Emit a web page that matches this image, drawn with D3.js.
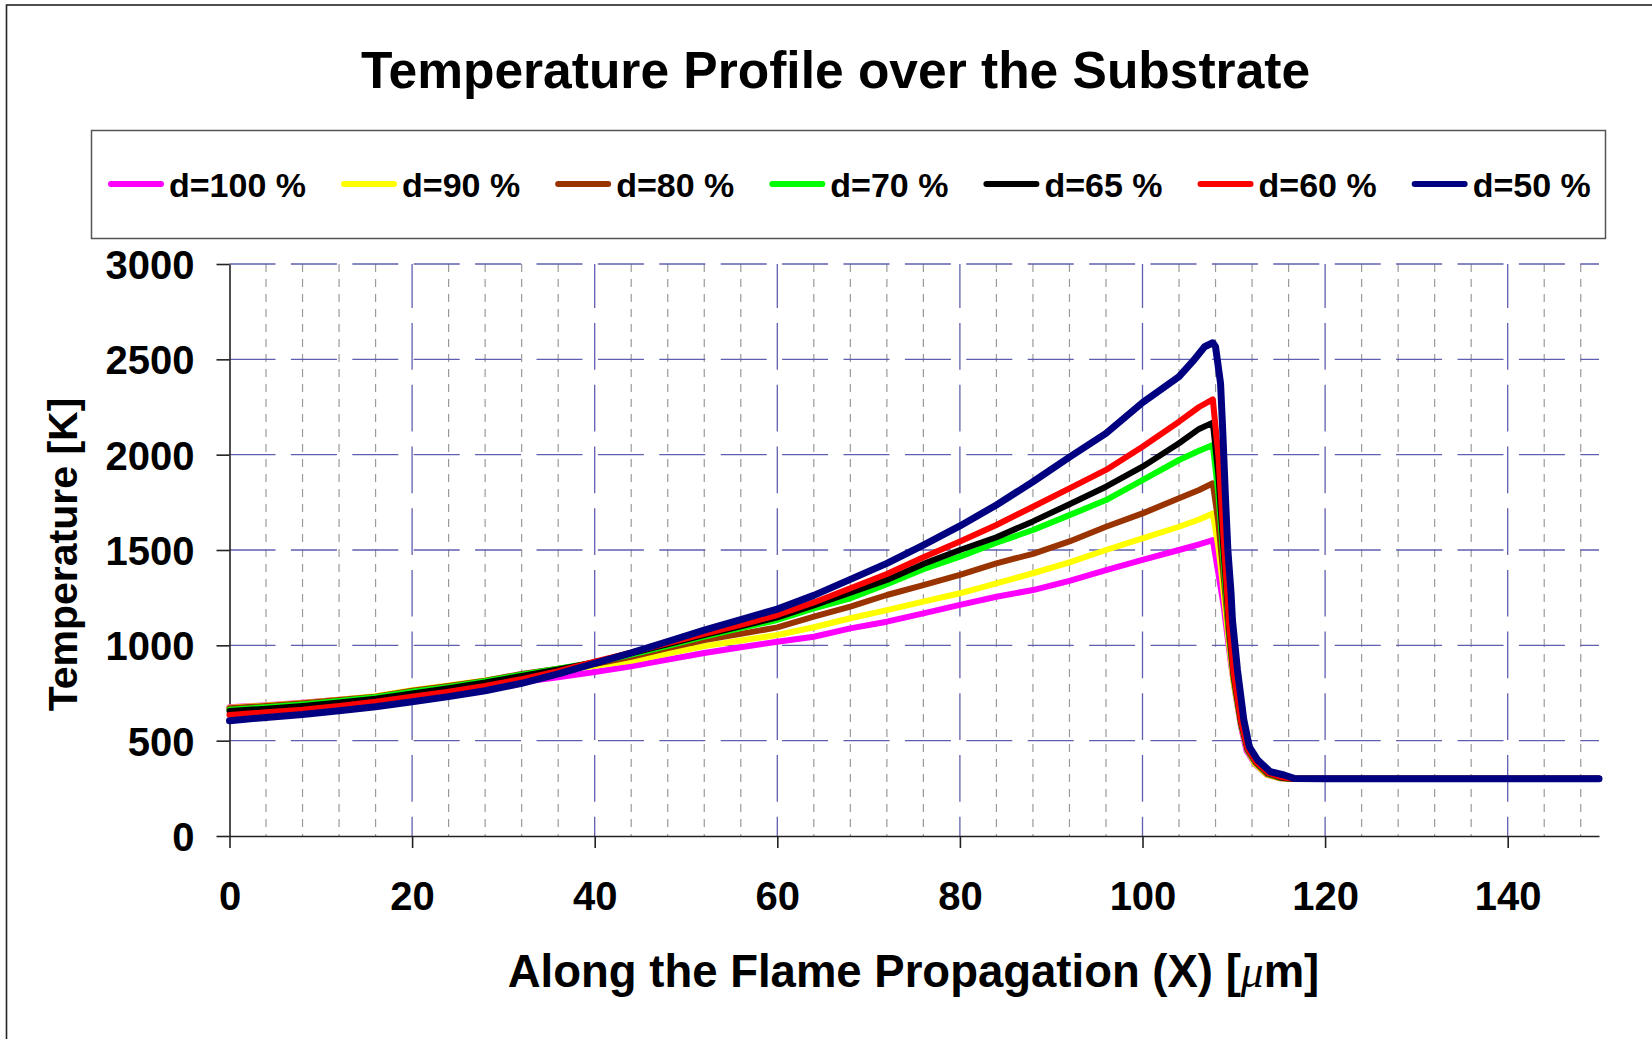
<!DOCTYPE html>
<html><head><meta charset="utf-8">
<script src="https://cdn.jsdelivr.net/npm/d3@7"></script>
<style>
html,body{margin:0;padding:0;background:#fff;}
svg{display:block;font-family:"Liberation Sans",Arial,Helvetica,sans-serif;}
</style></head><body>
<svg id="chart" width="1652" height="1039"></svg>
<script>
// Positions along the flame propagation (µm) for the rising part of every profile
const xRise = [0,4,8,12,16,20,24,28,32,36,40,44,48,52,56,60,64,68,72,76,80,84,88,92,96,100,104];

// Temperatures (K) over xRise, one array per dilution
const rise100 = [675,686,699,714,731,755,777,796,808,832,860,890,925,960,990,1019,1045,1089,1124,1168,1212,1255,1290,1338,1395,1448,1500];
const rise90  = [673,685,698,715,733,764,789,816,846,868,893,919,957,996,1025,1054,1095,1142,1185,1229,1273,1325,1378,1435,1500,1561,1622];
const rise80  = [670,682,696,713,731,762,787,815,850,878,902,940,985,1028,1060,1094,1150,1203,1264,1316,1369,1430,1480,1545,1622,1692,1771];
const rise70  = [662,675,690,708,728,757,782,812,846,878,910,952,998,1046,1090,1133,1194,1247,1320,1399,1465,1538,1605,1683,1762,1867,1972];
const rise65  = [655,668,682,700,720,748,775,805,840,874,912,958,1005,1054,1100,1147,1210,1276,1343,1427,1500,1567,1650,1740,1832,1937,2060];
const rise60  = [635,649,662,682,704,731,757,787,823,865,915,962,1012,1060,1108,1159,1225,1299,1374,1462,1544,1631,1727,1823,1920,2042,2173];
const rise50  = [605,622,637,657,678,704,731,762,801,850,905,960,1020,1080,1135,1190,1262,1346,1430,1526,1626,1736,1858,1987,2112,2273,2409];

// Peak and quench behind the flame front: [x (µm), T (K)]
const drop100 = [[106.2,1530],[107.7,1552],[108.3,1380],[108.9,1203],[109.3,1050],[109.7,900],[110.2,740],[110.8,570],[111.4,448],[112.3,378],[113.6,322],[115.0,303],[116.0,300],[120,300],[150,300]];
const drop90  = [[106.2,1660],[107.7,1692],[108.3,1520],[108.7,1360],[109.1,1180],[109.5,1000],[110.0,800],[110.8,580],[111.5,450],[112.3,380],[113.6,322],[115.0,303],[116.0,300],[120,300],[150,300]];
const drop80  = [[106.2,1815],[107.7,1850],[108.3,1650],[108.7,1450],[109.1,1250],[109.5,1040],[110.0,820],[110.8,585],[111.5,452],[112.4,382],[113.7,324],[115.1,304],[116.1,300],[120,300],[150,300]];
const drop70  = [[106.2,2020],[107.7,2051],[108.3,1800],[108.7,1560],[109.1,1300],[109.5,1060],[110.0,830],[110.8,590],[111.5,455],[112.4,385],[113.8,326],[115.2,305],[116.2,300],[120,300],[150,300]];
const drop65  = [[106.2,2135],[107.7,2168],[108.3,1900],[108.7,1620],[109.1,1350],[109.5,1080],[110.0,840],[110.8,595],[111.5,458],[112.4,388],[113.8,328],[115.2,306],[116.3,300],[120,300],[150,300]];
const drop60  = [[106.2,2250],[107.7,2290],[108.3,2000],[108.7,1700],[109.1,1400],[109.5,1100],[110.0,850],[110.8,600],[111.5,460],[112.4,390],[113.8,330],[115.3,308],[116.4,300],[120,300],[150,300]];
const drop50  = [[105.5,2489],[106.8,2566],[107.7,2587],[108.0,2566],[108.55,2374],[108.8,2112],[109.1,1762],[109.35,1500],[109.7,1273],[109.85,1133],[110.4,871],[111.1,608],[111.7,468],[112.6,399],[114.0,337],[115.5,320],[116.6,302],[120,300],[150,300]];

const seriesNames  = ["d=100 %","d=90 %","d=80 %","d=70 %","d=65 %","d=60 %","d=50 %"];
const seriesColors = ["#FF00FF","#FFFF00","#993300","#00FF00","#000000","#FF0000","#000080"];
const xTicks = [0,20,40,60,80,100,120,140];
const yTicks = [0,500,1000,1500,2000,2500,3000];

const rises = [rise100,rise90,rise80,rise70,rise65,rise60,rise50];
const drops = [drop100,drop90,drop80,drop70,drop65,drop60,drop50];
const series = seriesNames.map((name,i)=>({
  name, color: seriesColors[i],
  points: xRise.map((xv,j)=>[xv, rises[i][j]]).concat(drops[i])
}));

const W = 1652, H = 1039;
const svg = d3.select("#chart");
svg.append("rect").attr("width",W).attr("height",H).attr("fill","#fff");

// outer chart frame (runs off the right and bottom edges)
svg.append("rect").attr("x",6.5).attr("y",5).attr("width",W+20).attr("height",H+20)
  .attr("fill","none").attr("stroke","#222").attr("stroke-width",1.6);

// title
svg.append("text").attr("x",835.5).attr("y",88).attr("text-anchor","middle")
  .attr("font-size",51.5).attr("font-weight","bold").attr("fill","#000")
  .text("Temperature Profile over the Substrate");

// legend
const lg = svg.append("g");
lg.append("rect").attr("x",91.5).attr("y",130.5).attr("width",1514).attr("height",108)
  .attr("fill","#fff").attr("stroke","#555").attr("stroke-width",1.5);
let lx = 111;
series.forEach(s=>{
  lg.append("line").attr("x1",lx).attr("x2",lx+50).attr("y1",184).attr("y2",184)
    .attr("stroke",s.color).attr("stroke-width",6).attr("stroke-linecap","round");
  const t = lg.append("text").attr("x",lx+58).attr("y",196.5).attr("font-size",34)
    .attr("font-weight","bold").attr("fill","#000").text(s.name);
  lx = lx + 58 + t.node().getComputedTextLength() + 38;
});

// scales
const x = d3.scaleLinear().domain([0,150]).range([229.5,1599]);
const y = d3.scaleLinear().domain([0,3000]).range([836,264]);

const grid = svg.append("g");
// minor vertical grid every 4 µm
d3.range(4,150,4).filter(v=>v%20!==0).forEach(v=>{
  grid.append("line").attr("x1",x(v)).attr("x2",x(v)).attr("y1",y(3000)).attr("y2",y(0))
    .attr("stroke","#9a9a9a").attr("stroke-width",1.2).attr("stroke-dasharray","8,7");
});
// major vertical grid
xTicks.filter(v=>v>0).forEach(v=>{
  grid.append("line").attr("x1",x(v)).attr("x2",x(v)).attr("y1",y(3000)).attr("y2",y(0))
    .attr("stroke","#5f5fb0").attr("stroke-width",1.3)
    .attr("stroke-dasharray","46.7,15").attr("stroke-dashoffset",2.6);
});
// major horizontal grid
yTicks.filter(v=>v>0).forEach(v=>{
  grid.append("line").attr("x1",x(0)).attr("x2",x(150)).attr("y1",y(v)).attr("y2",y(v))
    .attr("stroke","#5f5fb0").attr("stroke-width",1.3).attr("stroke-dasharray","46,15.4");
});

// axes
const xAxis = svg.append("g").attr("transform",`translate(0,${y(0)})`)
  .call(d3.axisBottom(x).tickValues(xTicks).tickSize(12).tickSizeOuter(0).tickPadding(22).tickFormat(d3.format("d")));
const yAxis = svg.append("g").attr("transform",`translate(${x(0)},0)`)
  .call(d3.axisLeft(y).tickValues(yTicks).tickSize(13).tickSizeOuter(0).tickPadding(22).tickFormat(d3.format("d")));
[xAxis,yAxis].forEach(a=>{
  a.select(".domain").attr("stroke","#222").attr("stroke-width",1.6);
  a.selectAll(".tick line").attr("stroke","#222").attr("stroke-width",1.6);
  a.selectAll(".tick text").attr("fill","#000").attr("font-size",40)
    .attr("font-weight","bold").attr("font-family","'Liberation Sans',Arial,sans-serif");
});
xAxis.selectAll(".tick text").attr("dy",null).attr("y",74);
yAxis.selectAll(".tick text").attr("dy","0.36em");

// curves
const line = d3.line().x(d=>x(d[0])).y(d=>y(d[1]));
svg.append("g").selectAll("path").data(series).join("path")
  .attr("d",d=>line(d.points))
  .attr("fill","none")
  .attr("stroke",d=>d.color)
  .attr("stroke-width",(d,i)=>i===6?7:6)
  .attr("stroke-linejoin","round")
  .attr("stroke-linecap","round");

// axis titles
svg.append("text").attr("transform","translate(76.5,554.5) rotate(-90)")
  .attr("text-anchor","middle").attr("font-size",41).attr("font-weight","bold")
  .text("Temperature [K]");
const xt = svg.append("text").attr("x",913.5).attr("y",987).attr("text-anchor","middle")
  .attr("font-size",45.5).attr("font-weight","bold");
xt.append("tspan").text("Along the Flame Propagation (X) [");
xt.append("tspan").attr("font-style","italic").attr("font-weight","normal")
  .attr("font-family","'Liberation Serif','DejaVu Serif',serif").text("\u03BC");
xt.append("tspan").text("m]");
</script>
</body></html>
